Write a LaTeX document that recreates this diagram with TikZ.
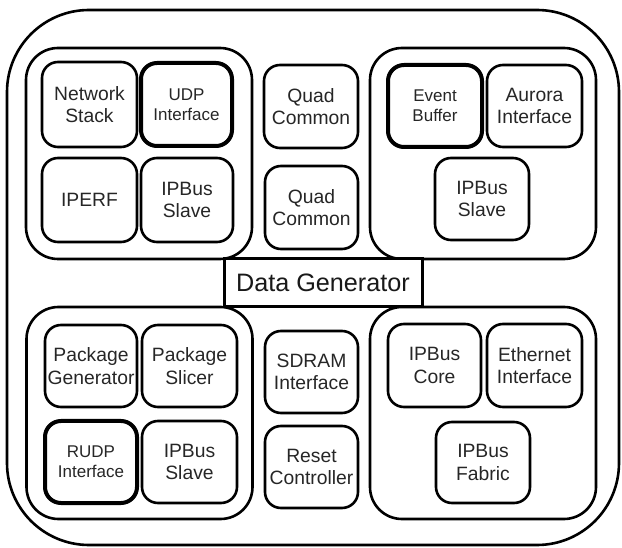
\documentclass[tikz,border=0pt]{standalone}
\usepackage{fontspec}
\setmainfont{Liberation Sans}
\begin{document}
\begin{tikzpicture}[x=1pt,y=-1pt,
  outerbox/.style={draw=black, line width=2.6pt, rounded corners=82pt, minimum width=612pt, minimum height=535pt, inner sep=0pt},
  grp/.style={draw=black, line width=2.6pt, rounded corners=32pt, minimum width=226pt, minimum height=211pt, inner sep=0pt},
  blk/.style={draw=black, line width=2.6pt, rounded corners=16pt, align=center, inner sep=0pt, text=black!85,
    font=\fontsize{19.3}{22.5}\selectfont},
  thk/.style={blk, line width=4pt, font=\fontsize{17}{20}\selectfont},
  title/.style={draw=black, line width=3pt, fill=white, inner sep=0pt, minimum width=198pt, minimum height=48pt,
    font=\fontsize{25.2}{30}\selectfont, text=black!90}
]
\useasboundingbox (0,0) rectangle (622,548);
% outer frame
\node[outerbox] (outer) at (313,277.5) {};
% groups
\node[grp] (gtl) at (139,153.5) {};
\node[grp] (gtr) at (483,153.5) {};
\node[grp, minimum height=212pt] (gbl) at (139.5,413) {};
\node[grp, minimum height=212pt] (gbr) at (483,413) {};
% top-left group
\node[blk, minimum width=95pt, minimum height=85pt] (ns) at (89.5,104.5) {Network\\Stack};
\node[thk, minimum width=91pt, minimum height=83pt] (udp) at (186.5,104.5) {UDP\\Interface};
\node[blk, minimum width=95pt, minimum height=84pt] (iperf) at (89.5,200) {IPERF};
\node[blk, minimum width=92pt, minimum height=84pt] (slv1) at (187,200) {IPBus\\Slave};
% middle top
\node[blk, minimum width=94pt, minimum height=83pt] (qc1) at (311,106.5) {Quad\\Common};
\node[blk, minimum width=93pt, minimum height=83pt] (qc2) at (311.5,207.5) {Quad\\Common};
% top-right group
\node[thk, minimum width=94pt, minimum height=82pt] (eb) at (435,106) {Event\\Buffer};
\node[blk, minimum width=95pt, minimum height=82pt] (ai) at (534.5,106) {Aurora\\Interface};
\node[blk, minimum width=94pt, minimum height=82pt] (slv2) at (482,199) {IPBus\\Slave};
% bottom-left group
\node[blk, minimum width=92pt, minimum height=82pt] (pg) at (91,366) {Package\\Generator};
\node[blk, minimum width=95pt, minimum height=82pt] (ps) at (189.5,366) {Package\\Slicer};
\node[thk, minimum width=92pt, minimum height=82pt] (rudp) at (91,462) {RUDP\\Interface};
\node[blk, minimum width=95pt, minimum height=82pt] (slv3) at (189.5,462) {IPBus\\Slave};
% middle bottom
\node[blk, minimum width=93pt, minimum height=82pt] (sdram) at (311.5,372) {SDRAM\\Interface};
\node[blk, minimum width=93pt, minimum height=82pt] (rst) at (311.5,467) {Reset\\Controller};
% bottom-right group
\node[blk, minimum width=93pt, minimum height=83pt] (core) at (434.5,365.5) {IPBus\\Core};
\node[blk, minimum width=95pt, minimum height=83pt] (eth) at (534.5,365.5) {Ethernet\\Interface};
\node[blk, minimum width=94pt, minimum height=81pt] (fab) at (483,462.5) {IPBus\\Fabric};
% title
\node[title] (dg) at (323,283) {Data Generator};
\end{tikzpicture}
\end{document}
